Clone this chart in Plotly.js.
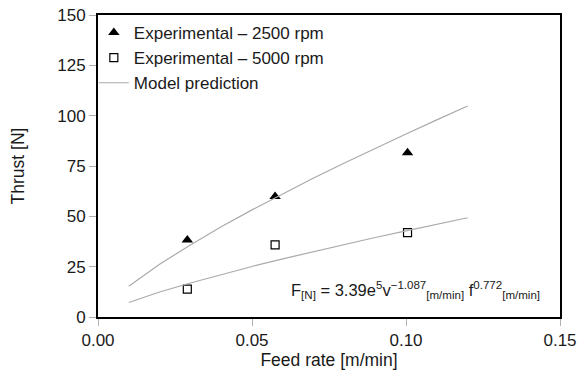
<!DOCTYPE html>
<html>
<head>
<meta charset="utf-8">
<script src="https://cdn.plot.ly/plotly-3.0.1.min.js"></script>
<style>html,body{margin:0;padding:0;background:#fff;}#chart{width:586px;height:376px;}</style>
</head>
<body>
<div id="chart"></div>
<script>
// Experimental data
var feed2500 = [0.029, 0.0575, 0.1005];
var thrust2500 = [38.3, 59.8, 81.6];
var feed5000 = [0.029, 0.0575, 0.1005];
var thrust5000 = [13.8, 35.8, 41.9];
// Model prediction curves
var modelFeed = [0.01, 0.02, 0.03, 0.04, 0.05, 0.06, 0.07, 0.08, 0.09, 0.10, 0.11, 0.12];
var model2500 = [15.3, 26.2, 35.8, 44.8, 53.2, 61.3, 69.0, 76.5, 83.8, 90.9, 97.9, 104.8];
var model5000 = [7.2, 12.4, 16.9, 21.1, 25.1, 28.9, 32.5, 36.1, 39.5, 42.8, 46.1, 49.3];
var xTicks = [0, 0.05, 0.10, 0.15];
var xTickText = ['0.00', '0.05', '0.10', '0.15'];
var yTicks = [0, 25, 50, 75, 100, 125, 150];

var font = 'Liberation Sans, Arial, Helvetica, sans-serif';
var lineColor = '#aaaaaa';

var traces = [
  {x: feed2500, y: thrust2500, type: 'scatter', mode: 'markers', name: 'Experimental \u2013 2500 rpm',
   marker: {symbol: 'triangle-up', size: 10, color: '#000'}},
  {x: feed5000, y: thrust5000, type: 'scatter', mode: 'markers', name: 'Experimental \u2013 5000 rpm',
   marker: {symbol: 'square-open', size: 8, color: '#000', line: {width: 1.2}}},
  {x: modelFeed, y: model2500, type: 'scatter', mode: 'lines', name: 'Model prediction',
   line: {color: lineColor, width: 1.2}, legendgroup: 'c'},
  {x: modelFeed, y: model5000, type: 'scatter', mode: 'lines', name: 'Model prediction',
   line: {color: lineColor, width: 1.2}, legendgroup: 'c', showlegend: false}
];

var layout = {
  width: 586, height: 376,
  margin: {l: 98, r: 26, t: 15, b: 59},
  paper_bgcolor: '#fff', plot_bgcolor: '#fff',
  font: {family: font, size: 16, color: '#1a1a1a'},
  showlegend: true,
  legend: {x: -0.009, y: 1.0, xanchor: 'left', yanchor: 'top', bgcolor: 'rgba(0,0,0,0)',
           font: {family: font, size: 17, color: '#1a1a1a'}, traceorder: 'normal', tracegroupgap: 0,
           itemwidth: 30},
  xaxis: {range: [0, 0.15], tickvals: xTicks, ticktext: xTickText, ticks: 'outside', ticklen: 7,
          tickcolor: '#b0b0b0', tickwidth: 1, showline: true, linecolor: '#000', linewidth: 2,
          mirror: true, showgrid: false, zeroline: false,
          tickfont: {family: font, size: 17, color: '#1a1a1a'},
          title: {text: 'Feed rate [m/min]', font: {family: font, size: 17.5, color: '#1a1a1a'}, standoff: 4}},
  yaxis: {range: [0, 150], tickvals: yTicks, ticks: 'outside', ticklen: 7,
          tickcolor: '#b0b0b0', tickwidth: 1, showline: true, linecolor: '#000', linewidth: 2,
          mirror: true, showgrid: false, zeroline: false,
          tickfont: {family: font, size: 17, color: '#1a1a1a'},
          title: {text: 'Thrust [N]', font: {family: font, size: 17.5, color: '#1a1a1a'}, standoff: 28}},
  annotations: [{
    xref: 'paper', yref: 'paper', x: 0.962, y: 0.09, xanchor: 'right', yanchor: 'middle', showarrow: false,
    text: 'F<sub>[N]</sub> = 3.39e<sup>5</sup>v<sup>\u22121.087</sup><sub>[m/min]</sub> f<sup>0.772</sup><sub>[m/min]</sub>',
    font: {family: font, size: 16.5, color: '#1a1a1a'}
  }]
};

Plotly.newPlot('chart', traces, layout, {displayModeBar: false, staticPlot: true});
</script>
</body>
</html>
